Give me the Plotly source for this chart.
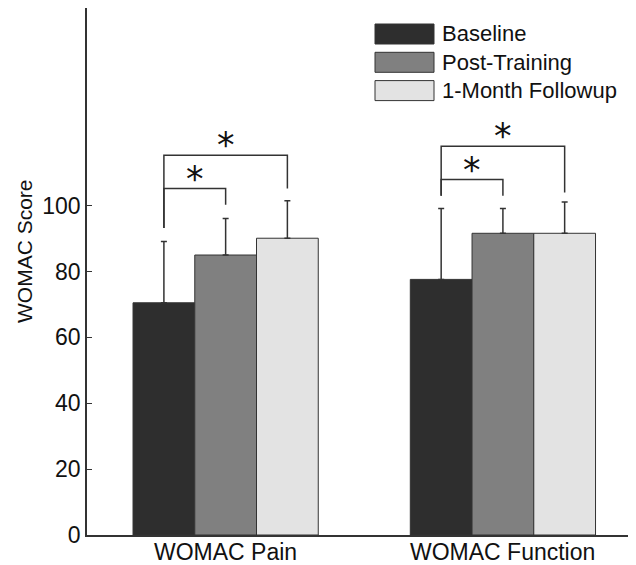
import plotly.graph_objects as go

categories = ["WOMAC Pain", "WOMAC Function"]
series_names = ["Baseline", "Post-Training", "1-Month Followup"]
baseline = [70.5, 77.6]
post_training = [85.0, 91.6]
followup = [90.1, 91.6]
baseline_err = [18.6, 21.5]
post_err = [11.1, 7.5]
followup_err = [11.4, 9.5]
y_ticks = [0, 20, 40, 60, 80, 100]

# significance brackets: (group index, bar from, bar to, bracket level, left end, right end)
brackets = [
    (0, 0, 1, 105.2, 93.2, 100.3),
    (0, 0, 2, 115.3, 93.2, 105.2),
    (1, 0, 1, 107.9, 103.0, 103.0),
    (1, 0, 2, 118.0, 103.0, 104.0),
]

colors = ["#2e2e2e", "#808080", "#e3e3e3"]
edge = "#333333"
FONT = "Liberation Sans, Arial, Helvetica, sans-serif"
TXT = "#111111"

values = [baseline, post_training, followup]
errs = [baseline_err, post_err, followup_err]

bargap = 0.332
bar_w = (1 - bargap) / 3
offsets = [-bar_w, 0.0, bar_w]

# page body has an 8px margin; work in window pixels and convert
OFF = 8
W, H = 636 - OFF, 565 - OFF
plot_left, plot_right, plot_top, plot_bottom = 87, 636, 8, 535
pw = plot_right - plot_left
ph = plot_bottom - plot_top
px_per_unit = ph / 160.0

def px(x):
    return (x - plot_left) / pw

def py(y):
    return (plot_bottom - y) / ph

fig = go.Figure()
for name, vals, er, col in zip(series_names, values, errs, colors):
    fig.add_trace(go.Bar(
        name=name, x=categories, y=vals,
        marker=dict(color=col, line=dict(color=edge, width=1)),
        error_y=dict(type="data", array=er, arrayminus=[0] * len(er), symmetric=False,
                     color=edge, thickness=1.5, width=3),
        showlegend=False,
    ))

shapes = []
annotations = []
for g, a, b, lvl, ya, yb in brackets:
    xa = g + offsets[a]
    xb = g + offsets[b]
    shapes.append(dict(type="path", xref="x", yref="y",
                       path=f"M {xa},{ya} L {xa},{lvl} L {xb},{lvl} L {xb},{yb}",
                       line=dict(color=edge, width=1.5)))
    annotations.append(dict(x=(xa + xb) / 2, y=lvl - 12.0 / px_per_unit, xref="x", yref="y",
                            text="*", showarrow=False, yanchor="bottom",
                            font=dict(family="DejaVu Sans", size=35, color=TXT)))

# category labels
for i, cat in enumerate(categories):
    annotations.append(dict(x=i, y=py(551.5), xref="x", yref="paper",
                            text=cat, showarrow=False, xanchor="center", yanchor="middle",
                            font=dict(family=FONT, size=23, color=TXT)))

for i, (name, col) in enumerate(zip(series_names, colors)):
    top = 24 + i * 28.3
    shapes.append(dict(type="rect", xref="paper", yref="paper",
                       x0=px(375), x1=px(434), y0=py(top + 20), y1=py(top),
                       fillcolor=col, line=dict(color=edge, width=1)))
    annotations.append(dict(x=px(440), y=py(top + 10), xref="paper", yref="paper",
                            text=name, showarrow=False, xanchor="left", yanchor="middle",
                            font=dict(family=FONT, size=22, color=TXT)))

annotations.append(dict(x=px(25), y=py(251), xref="paper", yref="paper",
                        text="WOMAC Score", showarrow=False, textangle=-90,
                        xanchor="center", yanchor="middle",
                        font=dict(family=FONT, size=21, color=TXT)))

fig.update_layout(
    width=W, height=H,
    margin=dict(l=plot_left - OFF, r=0, t=plot_top - OFF, b=565 - plot_bottom, autoexpand=False),
    paper_bgcolor="white", plot_bgcolor="white",
    barmode="group", bargap=bargap, bargroupgap=0,
    shapes=shapes, annotations=annotations,
    font=dict(family=FONT, size=21, color=TXT),
)
fig.update_xaxes(range=[-0.5, 1.48], showline=True, linecolor=edge, linewidth=1.5,
                 ticks="", ticklen=0, showgrid=False, zeroline=False, automargin=False,
                 showticklabels=False)
fig.update_yaxes(range=[0, 160], tickvals=y_ticks, showline=True, linecolor=edge,
                 linewidth=1.5, ticks="inside", ticklen=5, tickcolor=edge,
                 showgrid=False, zeroline=False, automargin=False,
                 tickfont=dict(family=FONT, size=23, color=TXT))

fig.write_html("out.html")
